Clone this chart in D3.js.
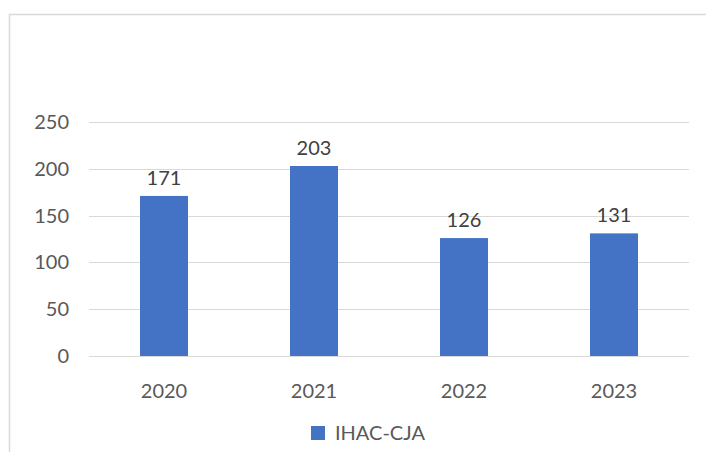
<!DOCTYPE html>
<html>
<head>
<meta charset="utf-8">
<script src="https://cdn.jsdelivr.net/npm/d3@7"></script>
<style>
  html, body { margin: 0; padding: 0; background: #fff; }
  svg { display: block; }
  text { font-family: Lato, "Open Sans", sans-serif; fill: #595959; }
</style>
</head>
<body>
<svg id="chart"></svg>
<script>
var years = ['2020', '2021', '2022', '2023']
var counts = [171, 203, 126, 131]
var yTicks = [0, 50, 100, 150, 200, 250]
var seriesName = 'IHAC-CJA'

var width = 706
var height = 452

var svg = d3.select('#chart').attr('width', width).attr('height', height)

// chart frame (right and bottom edges fall outside the picture)
svg.append('rect')
  .attr('x', 9.5).attr('y', 14.5)
  .attr('width', 720).attr('height', 460)
  .attr('fill', 'none')
  .attr('stroke', '#d9d9d9')
  .attr('stroke-width', 1.5)

var x = d3.scaleBand().domain(years).range([89, 689]).paddingInner(0.68).paddingOuter(0.34)
var y = d3.scaleLinear().domain([0, 250]).range([356, 122])

// gridlines
svg.append('g')
  .selectAll('line')
  .data(yTicks)
  .enter().append('line')
  .attr('x1', 89).attr('x2', 689)
  .attr('y1', function(d) { return Math.round(y(d)) + 0.5 })
  .attr('y2', function(d) { return Math.round(y(d)) + 0.5 })
  .attr('stroke', '#d9d9d9')
  .attr('stroke-width', 1)

// y tick labels
svg.append('g')
  .selectAll('text')
  .data(yTicks)
  .enter().append('text')
  .attr('x', 69)
  .attr('y', function(d) { return y(d) + 7 })
  .attr('text-anchor', 'end')
  .style('font-size', '20px')
  .text(function(d) { return d })

// bars
svg.append('g')
  .selectAll('rect')
  .data(counts)
  .enter().append('rect')
  .attr('x', function(d, i) { return x(years[i]) })
  .attr('y', function(d) { return y(d) })
  .attr('width', x.bandwidth())
  .attr('height', function(d) { return y(0) - y(d) })
  .attr('fill', '#4472c4')

// value labels
svg.append('g')
  .selectAll('text')
  .data(counts)
  .enter().append('text')
  .attr('x', function(d, i) { return x(years[i]) + x.bandwidth() / 2 })
  .attr('y', function(d) { return y(d) - 11 })
  .attr('text-anchor', 'middle')
  .style('font-size', '20px')
  .style('fill', '#404040')
  .text(function(d) { return d })

// x tick labels
svg.append('g')
  .selectAll('text')
  .data(years)
  .enter().append('text')
  .attr('x', function(d) { return x(d) + x.bandwidth() / 2 })
  .attr('y', 398)
  .attr('text-anchor', 'middle')
  .style('font-size', '20px')
  .text(function(d) { return d })

// legend
var legend = svg.append('g')
legend.append('rect')
  .attr('x', 311).attr('y', 426)
  .attr('width', 14).attr('height', 14)
  .attr('fill', '#4472c4')
legend.append('text')
  .attr('x', 335).attr('y', 440)
  .style('font-size', '20px')
  .text(seriesName)
</script>
</body>
</html>
